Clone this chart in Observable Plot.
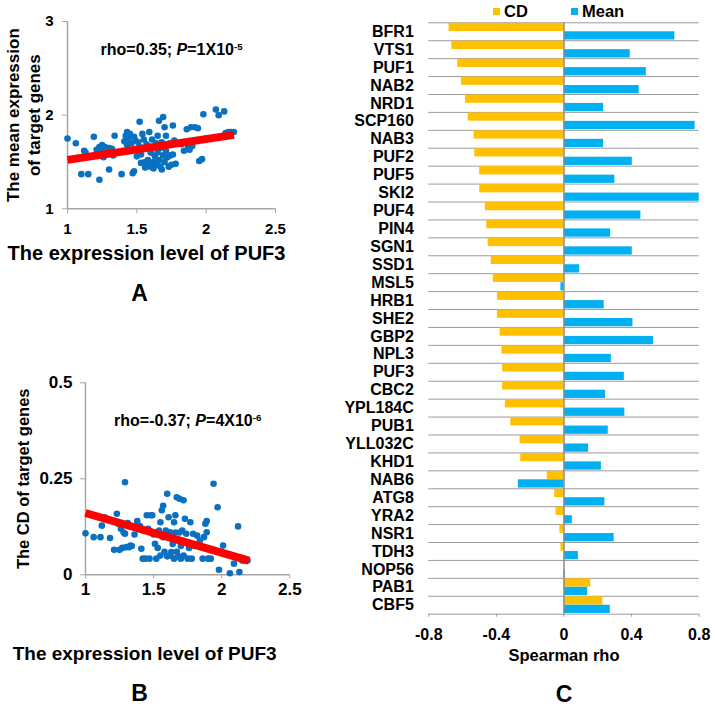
<!DOCTYPE html>
<html><head><meta charset="utf-8">
<script src="https://cdn.jsdelivr.net/npm/d3@7"></script>
<script src="https://cdn.jsdelivr.net/npm/@observablehq/plot@0.6"></script>
<style>
body{margin:0;background:#fff;}
#wrap{position:relative;width:715px;height:707px;background:#fff;font-family:"Liberation Sans",Arial,sans-serif;font-weight:bold;color:#000;overflow:hidden;}
.panel{position:absolute;}
.leg{position:absolute;top:0;font-size:16.5px;line-height:23px;}
.sw{position:absolute;width:7px;height:7px;top:8px;}
</style></head><body><div id="wrap"></div>
<script>
// ---------- Panel A data ----------
const aX = [1.00,1.06,1.10,1.15,1.12,1.11,1.13,1.19,1.23,1.21,1.22,1.23,1.24,1.25,1.25,1.26,1.26,1.27,1.28,1.28,1.29,1.30,1.30,1.31,1.32,1.33,1.34,1.35,1.39,1.41,1.42,1.43,1.43,1.44,1.45,1.46,1.47,1.48,1.48,1.49,1.50,1.51,1.52,1.52,1.53,1.54,1.55,1.56,1.56,1.57,1.58,1.58,1.59,1.60,1.60,1.61,1.62,1.62,1.63,1.64,1.64,1.65,1.65,1.66,1.66,1.67,1.67,1.68,1.68,1.69,1.69,1.70,1.70,1.71,1.71,1.72,1.73,1.74,1.74,1.75,1.76,1.76,1.77,1.78,1.80,1.82,1.84,1.86,1.87,1.88,1.89,1.90,1.92,1.94,1.95,1.97,1.98,2.00,2.07,2.09,2.13,2.14,2.16,2.18,2.20,1.53,1.46,1.60];
const aY = [1.75,1.70,1.37,1.37,1.62,1.55,1.60,1.77,1.31,1.63,1.60,1.66,1.58,1.64,1.68,1.62,1.55,1.66,1.60,1.63,1.58,1.65,1.42,1.60,1.64,1.57,1.78,1.60,1.37,1.72,1.78,1.82,1.68,1.75,1.80,1.70,1.38,1.40,1.77,1.73,1.56,1.71,1.93,1.66,1.49,1.80,1.74,1.50,1.44,1.69,1.47,1.52,1.82,1.45,1.66,1.74,1.50,1.43,1.56,1.70,1.47,1.60,1.78,1.94,1.52,1.45,1.65,1.42,1.71,1.57,1.98,1.87,1.50,1.62,1.78,1.55,1.45,1.57,1.70,1.47,1.89,1.58,1.73,1.48,1.70,1.69,1.62,1.85,1.66,1.63,1.87,1.67,1.87,1.86,1.51,1.53,2.01,1.75,2.06,2.00,2.04,1.81,1.82,1.82,1.82,1.58,1.62,1.60];
const trendAX = [1.0, 2.2];
const trendAY = [1.522, 1.789];
const aXTicks = [1, 1.5, 2, 2.5];
const aYTicks = [1, 2, 3];
const annoA = ["rho=0.35; ", "P", "=1X10", "-5"];

// ---------- Panel B data ----------
const bX = [1.00,1.06,1.11,1.12,1.14,1.18,1.21,1.23,1.24,1.25,1.26,1.27,1.28,1.29,1.29,1.30,1.31,1.32,1.33,1.38,1.40,1.41,1.42,1.44,1.45,1.47,1.48,1.49,1.50,1.51,1.52,1.53,1.54,1.55,1.55,1.56,1.57,1.57,1.58,1.59,1.60,1.60,1.61,1.62,1.62,1.63,1.64,1.65,1.65,1.66,1.66,1.67,1.67,1.68,1.68,1.69,1.69,1.70,1.70,1.71,1.72,1.72,1.73,1.74,1.75,1.76,1.77,1.78,1.79,1.80,1.82,1.84,1.86,1.87,1.88,1.89,1.89,1.90,1.92,1.94,1.97,1.98,2.01,2.06,2.09,2.12,2.13,2.15,2.17,2.19,1.46,1.36,1.34];
const bY = [0.108,0.098,0.098,0.128,0.150,0.096,0.065,0.159,0.133,0.065,0.120,0.070,0.110,0.241,0.107,0.072,0.135,0.072,0.076,0.140,0.127,0.068,0.042,0.042,0.155,0.042,0.155,0.155,0.105,0.081,0.042,0.070,0.115,0.137,0.050,0.168,0.180,0.098,0.060,0.115,0.211,0.048,0.150,0.111,0.050,0.059,0.080,0.137,0.042,0.155,0.110,0.202,0.060,0.048,0.090,0.198,0.110,0.042,0.075,0.115,0.194,0.050,0.146,0.107,0.042,0.070,0.137,0.042,0.107,0.075,0.102,0.089,0.042,0.098,0.133,0.111,0.140,0.042,0.042,0.237,0.176,0.013,0.076,0.004,0.029,0.126,0.007,0.037,0.037,0.037,0.120,0.105,0.075];
const trendBX = [1.0, 2.2];
const trendBY = [0.161, 0.037];
const bXTicks = [1, 1.5, 2, 2.5];
const bYTicks = [0, 0.25, 0.5];
const annoB = ["rho=-0.37; ", "P", "=4X10", "-6"];

// ---------- Panel C data ----------
const genes = ["BFR1","VTS1","PUF1","NAB2","NRD1","SCP160","NAB3","PUF2","PUF5","SKI2","PUF4","PIN4","SGN1","SSD1","MSL5","HRB1","SHE2","GBP2","NPL3","PUF3","CBC2","YPL184C","PUB1","YLL032C","KHD1","NAB6","ATG8","YRA2","NSR1","TDH3","NOP56","PAB1","CBF5"];
const cdRho = [-0.680,-0.664,-0.629,-0.607,-0.583,-0.567,-0.532,-0.528,-0.499,-0.499,-0.465,-0.457,-0.449,-0.430,-0.418,-0.394,-0.394,-0.378,-0.367,-0.363,-0.363,-0.347,-0.315,-0.260,-0.256,-0.099,-0.055,-0.047,-0.024,-0.018,0.000,0.158,0.230];
const meanRho = [0.656,0.392,0.487,0.445,0.234,0.776,0.234,0.404,0.301,0.800,0.455,0.276,0.404,0.093,-0.018,0.238,0.408,0.530,0.280,0.357,0.246,0.360,0.262,0.146,0.221,-0.270,0.242,0.049,0.297,0.085,0.008,0.140,0.274];
const seriesNames = ["CD", "Mean"];
const seriesColors = ["#FFC000", "#00B0F0"];
const xTicksC = [-0.8, -0.4, 0, 0.4, 0.8];

const FONT = '"Liberation Sans", Arial, sans-serif';
const baseStyle = {fontFamily: FONT, fontWeight: "bold", fontSize: "15px", color: "#000", background: "transparent", overflow: "visible"};
const AXIS_GRAY = "#a6a6a6";
const DOT_BLUE = "#0a70c0";
const wrap = document.getElementById("wrap");

function place(node, left, top) {
  const d = document.createElement("div");
  d.className = "panel";
  d.style.left = left + "px";
  d.style.top = top + "px";
  d.appendChild(node);
  wrap.appendChild(d);
  return node;
}

function richAnno(svg, parts) {
  const full = parts.join("");
  d3.select(svg).selectAll("text").filter(function () { return this.textContent === full; }).each(function () {
    const t = d3.select(this);
    t.selectAll("*").remove();
    t.text(null);
    t.append("tspan").text(parts[0]);
    t.append("tspan").attr("font-style", "italic").text(parts[1]);
    t.append("tspan").text(parts[2]);
    t.append("tspan").attr("font-size", "0.6em").attr("dy", "-0.5em").text(parts[3]);
  });
}

// ---------- Panel A ----------
const plotA = Plot.plot({
  width: 300, height: 310,
  marginLeft: 67, marginRight: 25, marginTop: 21, marginBottom: 101.7,
  x: {domain: [aXTicks[0], aXTicks[aXTicks.length - 1]]},
  y: {domain: [aYTicks[0], aYTicks[aYTicks.length - 1]]},
  style: baseStyle,
  marks: [
    Plot.ruleX([aXTicks[0]], {stroke: AXIS_GRAY, strokeWidth: 1.5}),
    Plot.ruleY([aYTicks[0]], {stroke: AXIS_GRAY, strokeWidth: 1.5}),
    Plot.axisX({ticks: aXTicks, tickSize: 5, tickPadding: 10, tickFormat: String, stroke: AXIS_GRAY, fontSize: 15, label: null}),
    Plot.axisY({ticks: aYTicks, tickSize: 5, tickPadding: 9, tickFormat: String, stroke: AXIS_GRAY, fontSize: 15, label: null}),
    Plot.dot(aX, {x: d => d, y: (d, i) => aY[i], r: 3.3, fill: DOT_BLUE, stroke: "none"}),
    Plot.line(trendAX, {x: d => d, y: (d, i) => trendAY[i], stroke: "#ff0000", strokeWidth: 8, strokeLinecap: "butt"}),
    Plot.text([annoA.join("")], {text: d => d, frameAnchor: "top", dy: 28, fontSize: 16, textAnchor: "middle", lineAnchor: "middle"}),
    Plot.text(["The expression level of PUF3"], {text: d => d, frameAnchor: "bottom", dx: -25, dy: 44.7, fontSize: 20, textAnchor: "middle", lineAnchor: "middle"}),
    Plot.text(["A"], {text: d => d, frameAnchor: "bottom", dx: -32, dy: 85, fontSize: 23, textAnchor: "middle", lineAnchor: "middle"}),
    Plot.text(["The mean expression\nof target genes"], {text: d => d, frameAnchor: "left", dx: -44.5, rotate: -90, fontSize: 17, lineHeight: 1.24, textAnchor: "middle", lineAnchor: "middle"})
  ]
});
place(plotA, 0, 0);
richAnno(plotA, annoA);

// ---------- Panel B ----------
const plotB = Plot.plot({
  width: 320, height: 377,
  marginLeft: 85, marginRight: 30.7, marginTop: 52.3, marginBottom: 132.7,
  x: {domain: [bXTicks[0], bXTicks[bXTicks.length - 1]]},
  y: {domain: [bYTicks[0], bYTicks[bYTicks.length - 1]]},
  style: baseStyle,
  marks: [
    Plot.ruleX([bXTicks[0]], {stroke: AXIS_GRAY, strokeWidth: 1.5}),
    Plot.ruleY([bYTicks[0]], {stroke: AXIS_GRAY, strokeWidth: 1.5}),
    Plot.axisX({ticks: bXTicks, tickSize: 4, tickPadding: 4, tickFormat: String, stroke: AXIS_GRAY, fontSize: 17, label: null}),
    Plot.axisY({ticks: bYTicks, tickSize: 5, tickPadding: 8, tickFormat: String, stroke: AXIS_GRAY, fontSize: 17, label: null}),
    Plot.dot(bX, {x: d => d, y: (d, i) => bY[i], r: 3.3, fill: DOT_BLUE, stroke: "none"}),
    Plot.line(trendBX, {x: d => d, y: (d, i) => trendBY[i], stroke: "#ff0000", strokeWidth: 8, strokeLinecap: "butt"}),
    Plot.text([annoB.join("")], {text: d => d, frameAnchor: "top", dy: 37.7, fontSize: 16, textAnchor: "middle", lineAnchor: "middle"}),
    Plot.text(["The expression level of PUF3"], {text: d => d, frameAnchor: "bottom", dx: -43, dy: 79, fontSize: 19, textAnchor: "middle", lineAnchor: "middle"}),
    Plot.text(["B"], {text: d => d, frameAnchor: "bottom", dx: -48, dy: 119, fontSize: 23, textAnchor: "middle", lineAnchor: "middle"}),
    Plot.text(["The CD of target genes"], {text: d => d, frameAnchor: "left", dx: -61.7, rotate: -90, fontSize: 16.5, textAnchor: "middle", lineAnchor: "middle"})
  ]
});
place(plotB, 0, 330);
richAnno(plotB, annoB);

// ---------- Panel C ----------
const rowsC = genes.map((g, i) => ({i, gene: g, cd: cdRho[i], mean: meanRho[i]}));
const plotC = Plot.plot({
  width: 375, height: 707,
  marginLeft: 88.3, marginRight: 16.3, marginTop: 22.3, marginBottom: 93.3,
  x: {domain: [xTicksC[0], xTicksC[xTicksC.length - 1]]},
  y: {domain: [genes.length, 0]},
  style: baseStyle,
  marks: [
    Plot.ruleY(d3.range(genes.length + 1), {stroke: "#9b9b9b", strokeWidth: 1}),
    Plot.rect(rowsC, {x1: () => 0, x2: "cd", y1: d => d.i, y2: d => d.i + 0.5, fill: seriesColors[0], insetBottom: 0.2, insetTop: 0.5}),
    Plot.rect(rowsC, {x1: () => 0, x2: "mean", y1: d => d.i + 0.5, y2: d => d.i + 1, fill: seriesColors[1], insetBottom: 0.7}),
    Plot.ruleX([0], {stroke: "#8c8c8c", strokeWidth: 1.5}),
    Plot.axisX({ticks: xTicksC, tickSize: 3, tickPadding: 11, tickFormat: String, stroke: "#9b9b9b", fontSize: 16, label: null}),
    Plot.axisY({ticks: genes.map((g, i) => i + 0.5), tickFormat: v => genes[Math.floor(v)], tickSize: 0, tickPadding: 15, fontSize: 16, label: null}),
    Plot.text(["Spearman rho"], {text: d => d, frameAnchor: "bottom", dy: 41.6, fontSize: 16.5, textAnchor: "middle", lineAnchor: "middle"}),
    Plot.text(["C"], {text: d => d, frameAnchor: "bottom", dy: 80, fontSize: 23, textAnchor: "middle", lineAnchor: "middle"})
  ]
});
place(plotC, 340, 0);

// legend for panel C
const legPos = [[493, 504], [571, 582]];
seriesNames.forEach((name, k) => {
  const sw = document.createElement("div");
  sw.className = "sw";
  sw.style.left = legPos[k][0] + "px";
  sw.style.background = seriesColors[k];
  wrap.appendChild(sw);
  const lab = document.createElement("div");
  lab.className = "leg";
  lab.style.left = legPos[k][1] + "px";
  lab.textContent = name;
  wrap.appendChild(lab);
});
</script></body></html>
